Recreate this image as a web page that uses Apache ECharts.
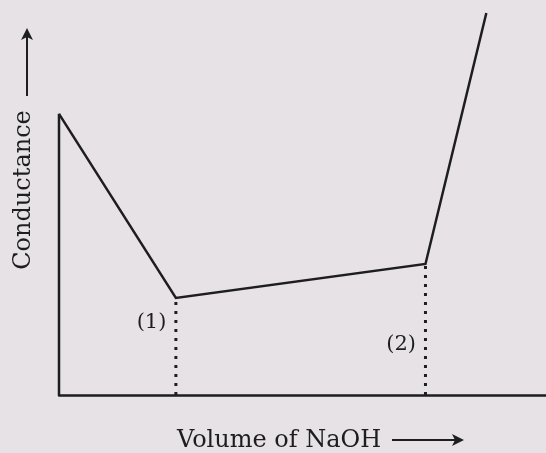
<!DOCTYPE html>
<html>
<head>
<meta charset="utf-8">
<script src="https://cdn.jsdelivr.net/npm/echarts@6/dist/echarts.min.js"></script>
<style>
  html, body { margin: 0; padding: 0; background: #e6e2e5; }
  #chart { width: 546px; height: 453px; }
</style>
</head>
<body>
<div id="chart"></div>
<script>
// conductometric titration curve (relative units)
var volume = [0, 9.6, 30.1, 35.1]
var conductance = [73.6, 25.4, 34.3, 100]
// equivalence points (1) and (2)
var eqNames = ['(1)', '(2)']
var eqVolume = [9.6, 30.1]
var eqConductance = [25.4, 34.3]
var eqLabelPos = [[7.6, 19.0], [28.1, 13.2]]

var ink = '#1e1e1e'
var font = '"DejaVu Serif", "Liberation Serif", serif'

var chart = echarts.init(document.getElementById('chart'))

var curve = volume.map(function (v, i) { return [v, conductance[i]] })

var dotted = eqVolume.map(function (v, i) {
  return {
    type: 'line',
    data: [[v, 0], [v, eqConductance[i]]],
    symbol: 'none',
    silent: true,
    lineStyle: { color: ink, width: 3, type: [3, 6] },
    z: 1
  }
})

chart.setOption({
  backgroundColor: '#e6e2e5',
  animation: false,
  grid: { left: 59, right: 0, top: 13, bottom: 58 },
  xAxis: {
    type: 'value',
    min: 0,
    max: 40,
    axisLine: { show: true, lineStyle: { color: ink, width: 2.5 } },
    axisTick: { show: false },
    axisLabel: { show: false },
    splitLine: { show: false }
  },
  yAxis: {
    type: 'value',
    min: 0,
    max: 100,
    axisLine: { show: false },
    axisTick: { show: false },
    axisLabel: { show: false },
    splitLine: { show: false }
  },
  series: [
    {
      // vertical line up to the starting conductance
      type: 'line',
      data: [[0, 0], [0, conductance[0]]],
      symbol: 'none',
      lineStyle: { color: ink, width: 2.5 },
      z: 3
    },
    {
      type: 'line',
      data: curve,
      symbol: 'none',
      lineStyle: { color: ink, width: 2.5, join: 'miter' },
      z: 3
    }
  ].concat(dotted).concat([
    {
      type: 'scatter',
      symbolSize: 0,
      itemStyle: { opacity: 1 },
      data: eqLabelPos.map(function (p, i) { return { value: p, name: eqNames[i] } }),
      label: {
        show: true,
        position: 'inside',
        formatter: '{b}',
        color: ink,
        fontFamily: font,
        fontSize: 21
      }
    }
  ]),
  graphic: [
    {
      type: 'text',
      x: 177,
      y: 441,
      style: { text: 'Volume of NaOH', fill: ink, font: '24px ' + font, verticalAlign: 'middle' }
    },
    {
      type: 'line',
      shape: { x1: 392, y1: 440, x2: 458, y2: 440 },
      style: { stroke: ink, lineWidth: 2 }
    },
    {
      type: 'polygon',
      shape: { points: [[464, 440], [452, 434], [455, 440], [452, 446]] },
      style: { fill: ink }
    },
    {
      type: 'text',
      x: 24,
      y: 190,
      rotation: Math.PI / 2,
      style: { text: 'Conductance', fill: ink, font: '24px ' + font, align: 'center', verticalAlign: 'middle' }
    },
    {
      type: 'line',
      shape: { x1: 27, y1: 96, x2: 27, y2: 34 },
      style: { stroke: ink, lineWidth: 2 }
    },
    {
      type: 'polygon',
      shape: { points: [[27, 28], [21, 40], [27, 37], [33, 40]] },
      style: { fill: ink }
    }
  ]
})
</script>
</body>
</html>
